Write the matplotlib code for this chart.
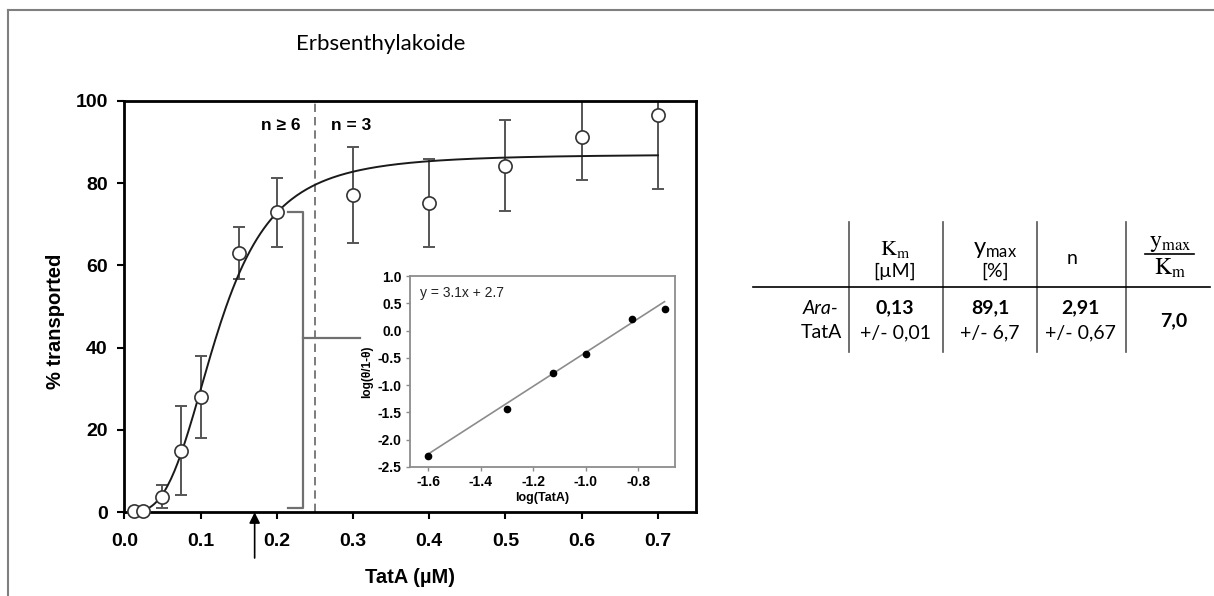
import numpy as np
import matplotlib
matplotlib.use("Agg")
import matplotlib.pyplot as plt
from matplotlib.lines import Line2D

plt.rcParams['font.family'] = ['Liberation Sans', 'DejaVu Sans']
plt.rcParams['mathtext.fontset'] = 'custom'
plt.rcParams['mathtext.rm'] = 'Lato'
plt.rcParams['mathtext.it'] = 'Lato:italic'

# --- main data: transport vs TatA concentration ---
tata = [0.0125, 0.025, 0.05, 0.075, 0.1, 0.15, 0.2, 0.3, 0.4, 0.5, 0.6, 0.7]
transported = [0.3, 0.3, 3.8, 15.0, 28.0, 62.9, 72.9, 77.1, 75.2, 84.2, 91.3, 96.6]
err = [0.0, 0.0, 2.8, 10.8, 10.0, 6.3, 8.4, 11.6, 10.7, 11.0, 10.6, 18.1]

# Hill fit drawn through the data
fit_ymax, fit_k, fit_n = 87.0, 0.122, 3.3

# --- inset: Hill plot ---
log_tata = [-1.60, -1.30, -1.125, -1.00, -0.824, -0.70]
log_theta = [-2.30, -1.44, -0.77, -0.43, 0.21, 0.40]
slope, intercept = 3.1, 2.7

# --- table ---
row_label = ["Ara-", "TatA"]
table_values = ["0,13", "89,1", "2,91"]
table_errors = ["+/- 0,01", "+/- 6,7", "+/- 0,67"]
ratio_value = "7,0"

W, H = 1214, 596
fig = plt.figure(figsize=(W / 100, H / 100), dpi=100)

def fx(x): return x / W
def fy(y): return 1 - y / H

# outer frame (left + top)
fig.add_artist(Line2D([fx(8), fx(8)], [fy(10), 0], transform=fig.transFigure, color="#7f7f7f", lw=1.5))
fig.add_artist(Line2D([fx(8), 1], [fy(10), fy(10)], transform=fig.transFigure, color="#7f7f7f", lw=1.5))

fig.text(fx(381), fy(44), "Erbsenthylakoide", family="Lato", fontsize=16, ha="center", va="center")

# main axes
ax = fig.add_axes([fx(124.3), fy(512.3), fx(696 - 124.3), (512.3 - 100.7) / H])
ax.set_xlim(0, 0.75); ax.set_ylim(0, 100)
xc = np.linspace(0.025, 0.7, 300)
ax.plot(xc, fit_ymax * xc**fit_n / (fit_k**fit_n + xc**fit_n), color="#1a1a1a", lw=1.4, zorder=3)
ax.errorbar(tata, transported, yerr=err, fmt="none", ecolor="#555555", elinewidth=1.4, capsize=4.5, capthick=1.4, zorder=2)
ax.plot(tata, transported, "o", ms=9.5, mfc="white", mec="#333333", mew=1.2, zorder=4, clip_on=False)
ax.axvline(0.25, color="#666666", lw=1.2, ls=(0, (5, 3)), zorder=1)
gray = "#707070"
ax.plot([0.2152, 0.2345, 0.2345, 0.2152], [72.9, 72.9, 1.1, 1.1], color=gray, lw=1.6, zorder=1)
ax.plot([0.2345, 0.309], [42.4, 42.4], color=gray, lw=1.6, zorder=1)
ax.text(0.2047, 93.9, "n ≥ 6", fontsize=12.5, fontweight="bold", ha="center", va="center")
ax.text(0.298, 93.9, "n = 3", fontsize=12.5, fontweight="bold", ha="center", va="center")
ax.annotate("", xy=(0.171, 0), xytext=(0.171, -11.1), annotation_clip=False,
            arrowprops=dict(arrowstyle="-|>", color="black", lw=1.2, mutation_scale=16, shrinkA=0, shrinkB=0))
ax.set_xticks(np.arange(0, 0.71, 0.1)); ax.set_xticklabels([f"{v:.1f}" for v in np.arange(0, 0.71, 0.1)])
ax.set_yticks(range(0, 101, 20))
for sp in ax.spines.values(): sp.set_linewidth(2.0)
ax.tick_params(direction="out", length=5, width=1.5, labelsize=14, pad=7)
ax.tick_params(axis="x", pad=10)
for lab in ax.get_xticklabels() + ax.get_yticklabels(): lab.set_fontweight("bold")
ax.set_xlabel("TatA (µM)", fontsize=14.5, fontweight="bold")
ax.set_ylabel("% transported", fontsize=14.5, fontweight="bold")
ax.xaxis.set_label_coords(0.5, -0.135); ax.xaxis.label.set_va("top")
ax.yaxis.set_label_coords(-0.103, 0.465)

# inset
ai = fig.add_axes([fx(410), fy(467), fx(265), 191 / H])
ai.set_xlim(-1.67, -0.66); ai.set_ylim(-2.5, 1.0)
xl = np.array([-1.6, -0.7])
ai.plot(xl, slope * xl + intercept, color="#8c8c8c", lw=1.2)
ai.plot(log_tata, log_theta, "o", color="black", ms=4.5)
ai.text(0.038, 0.91, "y = 3.1x + 2.7", transform=ai.transAxes, fontsize=10, color="#222222", va="center")
ai.set_xticks(np.arange(-1.6, -0.79, 0.2)); ai.set_xticklabels([f"{v:.1f}" for v in np.arange(-1.6, -0.79, 0.2)])
ai.set_yticks(np.arange(-2.5, 1.01, 0.5)); ai.set_yticklabels([f"{v:.1f}" for v in np.arange(-2.5, 1.01, 0.5)])
for sp in ai.spines.values(): sp.set_color("#8c8c8c"); sp.set_linewidth(1.3)
ai.tick_params(direction="out", length=3, width=1, color="#8c8c8c", labelsize=10, pad=3)
for lab in ai.get_xticklabels() + ai.get_yticklabels(): lab.set_fontweight("bold")
ai.set_xlabel("log(TatA)", fontsize=9, fontweight="bold", labelpad=2)
ai.set_ylabel("log(θ/1-θ)", fontsize=8.5, fontweight="bold", labelpad=3)

# table
tf = dict(family="Lato", fontsize=14, ha="center", va="center")
lines_gray = "#555555"
for xv in [849, 943, 1037, 1126]:
    fig.add_artist(Line2D([fx(xv), fx(xv)], [fy(222), fy(352)], transform=fig.transFigure, color=lines_gray, lw=1.2))
fig.add_artist(Line2D([fx(753), fx(1210)], [fy(287), fy(287)], transform=fig.transFigure, color="black", lw=1.2))
fig.text(fx(895), fy(250), r"$\mathrm{K_m}$", math_fontfamily="stix", family="Lato", fontsize=16, ha="center", va="center")
fig.text(fx(895), fy(271), "[µM]", **tf)
fig.text(fx(995), fy(250), r"$\mathrm{y_{max}}$", family="Lato", fontsize=17, ha="center", va="center")
fig.text(fx(995), fy(271), "[%]", **tf)
fig.text(fx(1072), fy(259), "n", **tf)
# ratio header as stacked fraction
fig.text(fx(1170), fy(243), r"$\mathrm{y_{max}}$", math_fontfamily="stix", fontsize=17, ha="center", va="center")
fig.add_artist(Line2D([fx(1145), fx(1194)], [fy(254), fy(254)], transform=fig.transFigure, color="black", lw=1.2))
fig.text(fx(1170), fy(268), r"$\mathrm{K_m}$", math_fontfamily="stix", fontsize=17, ha="center", va="center")
fig.text(fx(821), fy(308), row_label[0], style="italic", **tf)
fig.text(fx(821), fy(333), row_label[1], **tf)
for xv, v, e in zip([895, 990, 1080], table_values, table_errors):
    fig.text(fx(xv), fy(308), v, fontweight="bold", **tf)
    fig.text(fx(xv), fy(333), e, **tf)
fig.text(fx(1174), fy(321), ratio_value, fontweight="bold", **tf)

fig.savefig("out.png", dpi=100)
